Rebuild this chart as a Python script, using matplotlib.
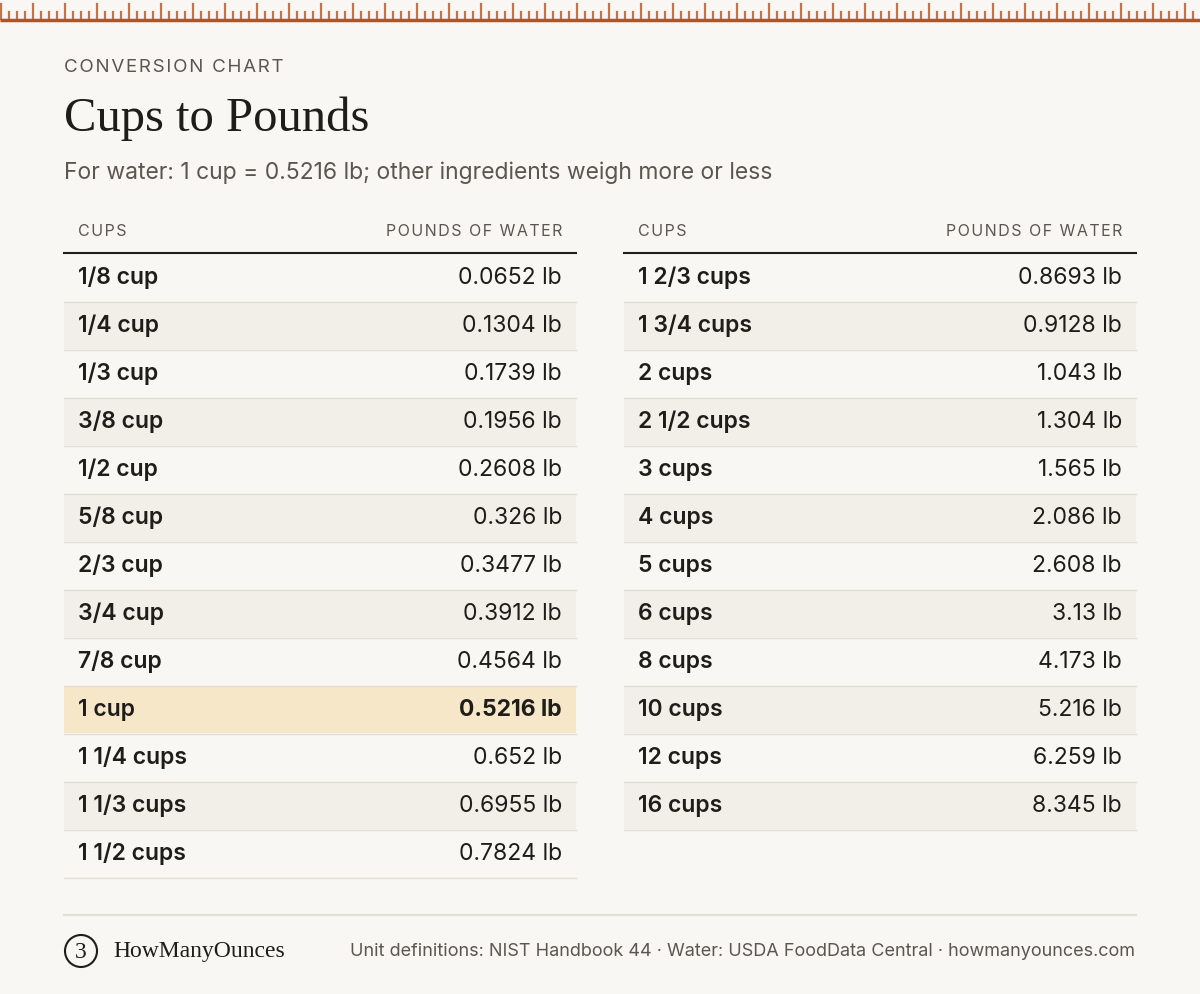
import matplotlib
matplotlib.use("Agg")
import matplotlib.pyplot as plt
from matplotlib.patches import Rectangle, Circle

left_cups = ["1/8 cup","1/4 cup","1/3 cup","3/8 cup","1/2 cup","5/8 cup","2/3 cup","3/4 cup","7/8 cup","1 cup","1 1/4 cups","1 1/3 cups","1 1/2 cups"]
left_lb = ["0.0652","0.1304","0.1739","0.1956","0.2608","0.326","0.3477","0.3912","0.4564","0.5216","0.652","0.6955","0.7824"]
right_cups = ["1 2/3 cups","1 3/4 cups","2 cups","2 1/2 cups","3 cups","4 cups","5 cups","6 cups","8 cups","10 cups","12 cups","16 cups"]
right_lb = ["0.8693","0.9128","1.043","1.304","1.565","2.086","2.608","3.13","4.173","5.216","6.259","8.345"]
highlight = "1 cup"

BG = "#f9f7f3"; INK = "#1f1d1a"; MUTED = "#5a5650"; SHADE = "#f2efe9"; HL = "#f5e7c8"
RUST = "#b5531f"; LINE = "#e3ded5"
SANS = ["Inter", "DejaVu Sans"]; SERIF = ["Liberation Serif", "DejaVu Serif"]

def spaced(s):
    return "\u200a".join(s)

fig = plt.figure(figsize=(12, 9.94), dpi=100)
fig.patch.set_facecolor(BG)
ax = fig.add_axes([0, 0, 1, 1])
ax.set_xlim(0, 1200); ax.set_ylim(994, 0); ax.axis("off")

# ruler
ax.plot([0, 1200], [19.5, 19.5], color=RUST, lw=2.5, solid_capstyle="butt")
for i, x in enumerate(range(1, 1200, 8)):
    top = 4 if i % 4 == 0 else 12
    ax.plot([x, x], [top, 19], color=RUST, lw=1.6, alpha=0.8)

ax.text(64, 68, spaced("CONVERSION CHART"), fontsize=13.5, color=MUTED, family=SANS, va="center")
ax.text(64, 119, "Cups to Pounds", fontsize=35, color=INK, family=SERIF, va="center")
ax.text(64, 173, "For water: 1 cup = 0.5216 lb; other ingredients weigh more or less", fontsize=16.5, color=MUTED, family=SANS, va="center")

def table(x0, x1, cups, lbs):
    ax.text(x0 + 14, 232, spaced("CUPS"), fontsize=11.5, color=MUTED, family=SANS, va="center")
    ax.text(x1 - 14, 232, spaced("POUNDS OF WATER"), fontsize=11.5, color=MUTED, family=SANS, va="center", ha="right")
    ax.plot([x0, x1], [252.5, 252.5], color=INK, lw=1.5)
    for i, (c, v) in enumerate(zip(cups, lbs)):
        y = 254 + 48 * i
        hl = c == highlight
        fc = HL if hl else (SHADE if i % 2 == 1 else BG)
        ax.add_patch(Rectangle((x0, y), x1 - x0, 47, facecolor=fc, edgecolor="none"))
        ax.plot([x0, x1], [y + 47.5, y + 47.5], color=LINE, lw=1)
        ax.text(x0 + 14, y + 24, c, fontsize=16.5, color=INK, family=SANS, va="center", weight="semibold")
        ax.text(x1 - 14, y + 24, f"{v} lb", fontsize=16.5, color=INK, family=SANS, va="center", ha="right",
                weight="bold" if hl else "normal")

table(64, 576, left_cups, left_lb)
table(624, 1136, right_cups, right_lb)

ax.plot([64, 1136], [915, 915], color=LINE, lw=1.5)
ax.add_patch(Circle((81, 951), 16, facecolor="none", edgecolor=INK, lw=1.5))
ax.text(81, 952, "3", fontsize=17, color=INK, family=SERIF, ha="center", va="center")
ax.text(113, 952, "HowManyOunces", fontsize=17, color=INK, family=SERIF, va="center")
ax.text(1135, 951, "Unit definitions: NIST Handbook 44 · Water: USDA FoodData Central · howmanyounces.com",
        fontsize=13, color=MUTED, family=SANS, va="center", ha="right")

fig.savefig("out.png", dpi=100, facecolor=BG)
